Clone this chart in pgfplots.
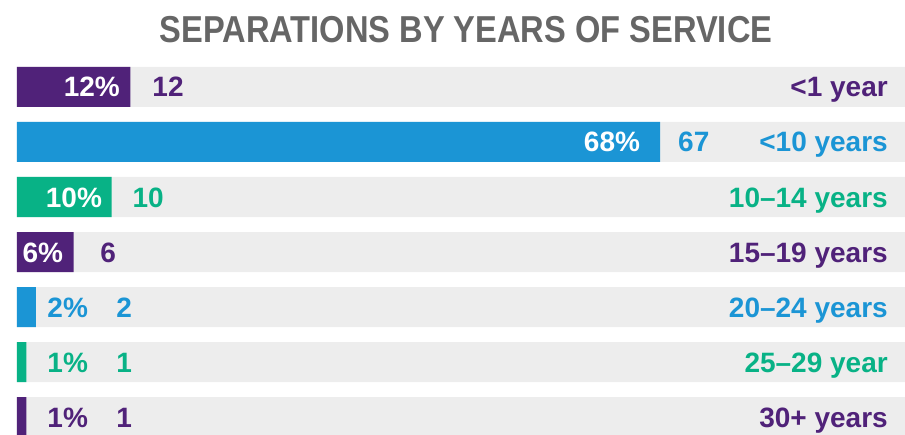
\documentclass[border=0pt]{standalone}
\usepackage{pgfplots}
\pgfplotsset{compat=1.18}
\usepackage{fontspec}
\setmainfont{Liberation Sans}
\newfontfamily\titlefont[FakeStretch=0.87]{Liberation Sans}
\definecolor{cpurple}{HTML}{502279}
\definecolor{cblue}{HTML}{1B95D5}
\definecolor{cgreen}{HTML}{08B286}
\definecolor{ctrack}{HTML}{EDEDED}
\definecolor{ctitle}{HTML}{666666}
\newcommand\lab{\fontsize{28}{30}\selectfont\bfseries}
\begin{document}
\begin{tikzpicture}
\useasboundingbox (-17pt,0pt) rectangle (888pt,434pt);
\begin{axis}[
  scale only axis, width=888pt, height=367pt,
  at={(0pt,0pt)}, anchor=south west,
  xmin=0, xmax=93.9, ymin=-0.3636, ymax=6.309,
  y dir=reverse, axis lines=none,
  xbar, bar width=40pt, bar shift=0pt,
  every axis plot/.append style={draw=none},
]
% background tracks
\addplot[fill=ctrack] coordinates {(93.9,0) (93.9,1) (93.9,2) (93.9,3) (93.9,4) (93.9,5) (93.9,6)};
% percentages
\addplot[fill=cpurple] coordinates {(12,0) (6,3) (1,6)};
\addplot[fill=cblue] coordinates {(68,1) (2,4)};
\addplot[fill=cgreen] coordinates {(10,2) (1,5)};

% percent labels
\node[anchor=base east, text=white, yshift=-10pt, inner sep=0pt] at (axis cs:10.9,0) {\lab 12\%};
\node[anchor=base east, text=white, yshift=-10pt, inner sep=0pt] at (axis cs:65.9,1) {\lab 68\%};
\node[anchor=base east, text=white, yshift=-10pt, inner sep=0pt] at (axis cs:9.0,2) {\lab 10\%};
\node[anchor=base east, text=white, yshift=-10pt, inner sep=0pt] at (axis cs:4.9,3) {\lab 6\%};
\node[anchor=base west, text=cblue, yshift=-10pt, inner sep=0pt] at (axis cs:3.2,4) {\lab 2\%};
\node[anchor=base west, text=cgreen, yshift=-10pt, inner sep=0pt] at (axis cs:3.2,5) {\lab 1\%};
\node[anchor=base west, text=cpurple, yshift=-10pt, inner sep=0pt] at (axis cs:3.2,6) {\lab 1\%};
% counts
\node[anchor=base west, text=cpurple, yshift=-10pt, inner sep=0pt] at (axis cs:14.3,0) {\lab 12};
\node[anchor=base west, text=cblue, yshift=-10pt, inner sep=0pt] at (axis cs:69.9,1) {\lab 67};
\node[anchor=base west, text=cgreen, yshift=-10pt, inner sep=0pt] at (axis cs:12.2,2) {\lab 10};
\node[anchor=base west, text=cpurple, yshift=-10pt, inner sep=0pt] at (axis cs:8.8,3) {\lab 6};
\node[anchor=base west, text=cblue, yshift=-10pt, inner sep=0pt] at (axis cs:10.5,4) {\lab 2};
\node[anchor=base west, text=cgreen, yshift=-10pt, inner sep=0pt] at (axis cs:10.5,5) {\lab 1};
\node[anchor=base west, text=cpurple, yshift=-10pt, inner sep=0pt] at (axis cs:10.5,6) {\lab 1};
% categories
\node[anchor=base east, text=cpurple, yshift=-10pt, inner sep=0pt] at (axis cs:92.1,0) {\lab <1 year};
\node[anchor=base east, text=cblue, yshift=-10pt, inner sep=0pt] at (axis cs:92.1,1) {\lab <10 years};
\node[anchor=base east, text=cgreen, yshift=-10pt, inner sep=0pt] at (axis cs:92.1,2) {\lab 10–14 years};
\node[anchor=base east, text=cpurple, yshift=-10pt, inner sep=0pt] at (axis cs:92.1,3) {\lab 15–19 years};
\node[anchor=base east, text=cblue, yshift=-10pt, inner sep=0pt] at (axis cs:92.1,4) {\lab 20–24 years};
\node[anchor=base east, text=cgreen, yshift=-10pt, inner sep=0pt] at (axis cs:92.1,5) {\lab 25–29 year};
\node[anchor=base east, text=cpurple, yshift=-10pt, inner sep=0pt] at (axis cs:92.1,6) {\lab 30+ years};
\end{axis}
\node[anchor=base, text=ctitle, inner sep=0pt] at (449pt,391pt) {\titlefont\bfseries\fontsize{37.5}{38}\selectfont SEPARATIONS BY YEARS OF SERVICE};
\end{tikzpicture}
\end{document}
